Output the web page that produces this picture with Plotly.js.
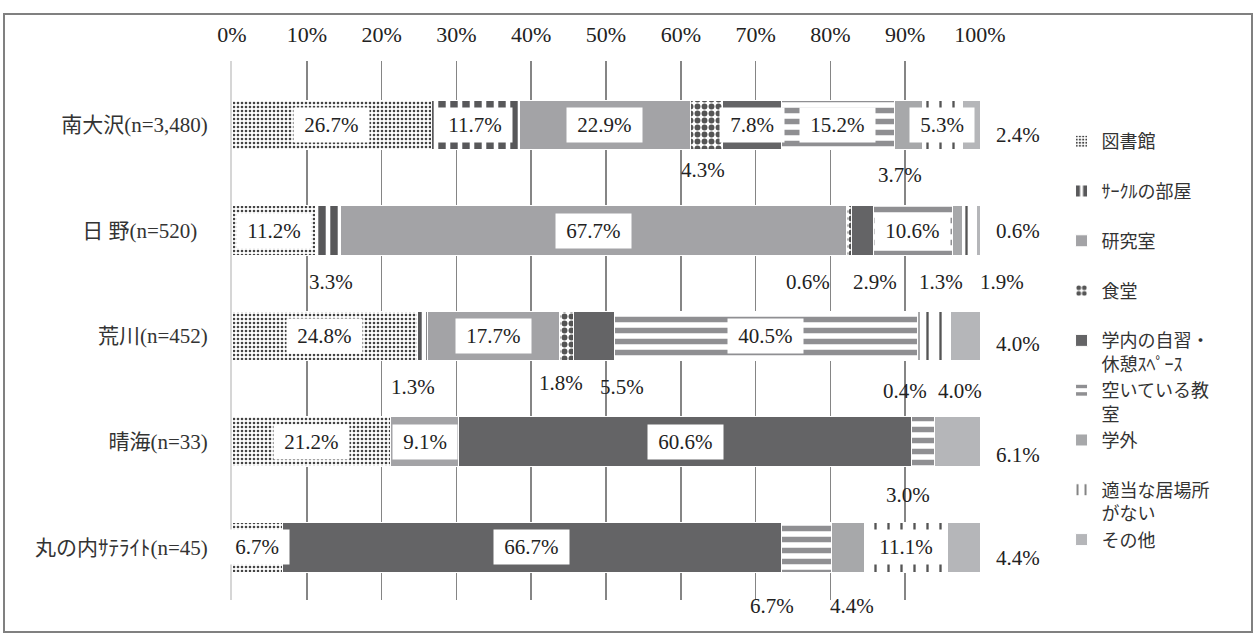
<!DOCTYPE html>
<html><head><meta charset="utf-8">
<script src="https://cdn.plot.ly/plotly-3.0.1.min.js"></script>
<style>
body{margin:0;background:#fff;}
#frame{position:absolute;left:3px;top:13px;width:1250px;height:620px;border:2px solid #808080;box-sizing:border-box;}
#chart{width:1246px;height:616px;}
</style></head><body>
<div id="frame"><div id="chart"></div></div>
<script>
// ---- data ----
const categories = ['南大沢(n=3,480)', '日 野(n=520)\u00a0\u00a0', '荒川(n=452)', '晴海(n=33)', '丸の内ｻﾃﾗｲﾄ(n=45)'];
const seriesNames = ['図書館', 'ｻｰｸﾙの部屋', '研究室', '食堂', '学内の自習・休憩ｽﾍﾟｰｽ', '空いている教室', '学外', '適当な居場所がない', 'その他'];
const legendLabels = ['図書館<br>&nbsp;', 'ｻｰｸﾙの部屋<br>&nbsp;', '研究室<br>&nbsp;', '食堂<br>&nbsp;', '学内の自習・<br>休憩ｽﾍﾟｰｽ', '空いている教<br>室', '学外<br>&nbsp;', '適当な居場所<br>がない', 'その他<br>&nbsp;'];
const library    = [26.7, 11.2, 24.8, 21.2, 6.7];
const circleRoom = [11.7, 3.3, 1.3, 0, 0];
const labRoom    = [22.9, 67.7, 17.7, 9.1, 0];
const cafeteria  = [4.3, 0.6, 1.8, 0, 0];
const studySpace = [7.8, 2.9, 5.5, 60.6, 66.7];
const emptyRoom  = [15.2, 10.6, 40.5, 3.0, 6.7];
const offCampus  = [3.7, 1.3, 0.4, 0, 4.4];
const noPlace    = [5.3, 1.9, 4.0, 0, 11.1];
const other      = [2.4, 0.6, 4.0, 6.1, 4.4];
const tickValues = [0, 10, 20, 30, 40, 50, 60, 70, 80, 90, 100];
const tickLabels = ['0%', '10%', '20%', '30%', '40%', '50%', '60%', '70%', '80%', '90%', '100%'];

const seriesValues = [library, circleRoom, labRoom, cafeteria, studySpace, emptyRoom, offCampus, noPlace, other];

// ---- styles ----
const serif = 'Liberation Serif, Noto Sans CJK JP, serif';
const seriesMarkers = [
  {color:'#ffffff', pattern:{shape:'.', fgcolor:'#444', bgcolor:'#ffffff', size:4, solidity:0.33, fillmode:'replace'}},
  {color:'#ffffff', pattern:{shape:'|', fgcolor:'#58585a', bgcolor:'#ffffff', size:12, solidity:0.62, fillmode:'replace'}},
  {color:'#a3a3a6'},
  {color:'#ffffff', pattern:{shape:'.', fgcolor:'#555', bgcolor:'#ffffff', size:7, solidity:0.55, fillmode:'replace'}},
  {color:'#646466'},
  {color:'#ffffff', pattern:{shape:'-', fgcolor:'#8f8f92', bgcolor:'#ffffff', size:11, solidity:0.5, fillmode:'replace'}},
  {color:'#a7a8aa'},
  {color:'#ffffff', pattern:{shape:'|', fgcolor:'#555', bgcolor:'#ffffff', size:13, solidity:0.18, fillmode:'replace'}},
  {color:'#b5b6b9'}
];
// label placement per series per category: i = inside box, b = below bar, r = right of bar
const labelPlace = [
  ['i','i','i','i','i'],
  ['i','b','b','',''],
  ['i','i','i','i',''],
  ['b','b','b','',''],
  ['i','b','b','i','i'],
  ['i','i','i','b','b'],
  ['b','b','b','','b'],
  ['i','b','b','','i'],
  ['r','r','r','r','r']
];
// manual nudges of outside labels in px [series, category, dx, dy(down)]
const nudges = [
  [3,0,-4,45],[6,0,-9,50],
  [1,1,3,51],[3,1,-41,51],[4,1,13,51],[6,1,-16,51],[7,1,33,51],
  [1,2,-9,51],[3,2,-5,47],[4,2,28,51],[6,2,-14,55],[7,2,25,55],
  [5,3,-15,53],
  [5,4,-34,59],[6,4,4,59]
];
const rightDy = [10,0,8,13,11];

const traces = seriesValues.map((vals, s) => ({
  type:'bar', orientation:'h', name: legendLabels[s],
  y: categories, x: vals,
  marker: Object.assign({line:{color:'#ffffff', width:1}}, seriesMarkers[s]),
  hoverinfo:'skip'
}));

const annotations = [];
categories.forEach((cat, c) => {
  let cum = 0;
  seriesValues.forEach((vals, s) => {
    const v = vals[c];
    const start = cum; cum += v;
    const place = labelPlace[s][c];
    if (!place || v <= 0) return;
    const txt = v.toFixed(1) + '%';
    const base = {xref:'x', yref:'y', y:cat, text:txt, showarrow:false, xanchor:'center', yanchor:'middle',
      font:{family:serif, size:21, color:'#222'}};
    if (place === 'i') {
      annotations.push(Object.assign(base, {x:start + v/2, text:'\u00a0' + txt + '\u00a0', bgcolor:'#ffffff', borderpad:5}));
    } else if (place === 'b') {
      const n = nudges.find(a => a[0] === s && a[1] === c) || [s,c,0,48];
      annotations.push(Object.assign(base, {x:start + v/2, xshift:n[2], yshift:-n[3]}));
    } else if (place === 'r') {
      const total = seriesValues.reduce((a, arr) => a + arr[c], 0);
      annotations.push(Object.assign(base, {x:Math.round(total), xshift:38, yshift:-rightDy[c]}));
    }
  });
});

const layout = {
  width:1246, height:616,
  margin:{l:227, r:271, t:46, b:31},
  barmode:'stack', bargap:0.53,
  paper_bgcolor:'#ffffff', plot_bgcolor:'#ffffff',
  showlegend:true,
  xaxis:{range:[0,100], side:'top', tickvals:tickValues, ticktext:tickLabels, showgrid:true,
    gridcolor:'#858585', gridwidth:1.5, zeroline:false, ticks:'', ticklabelstandoff:14,
    tickfont:{family:serif, size:22, color:'#222'}, fixedrange:true},
  yaxis:{autorange:'reversed', showline:true, linecolor:'#d6d6d6', linewidth:2, ticks:'',
    ticklabelstandoff:18, tickfont:{family:serif, size:21, color:'#333'}, showgrid:false, fixedrange:true},
  legend:{x:1.109, xanchor:'left', y:0.885, yanchor:'top', traceorder:'normal', valign:'top',
    font:{family:'Noto Sans CJK JP, sans-serif', size:18, color:'#333'}, itemclick:false, itemdoubleclick:false},
  annotations: annotations
};

Plotly.newPlot('chart', traces, layout, {displayModeBar:false, staticPlot:true});
</script>
</body></html>
